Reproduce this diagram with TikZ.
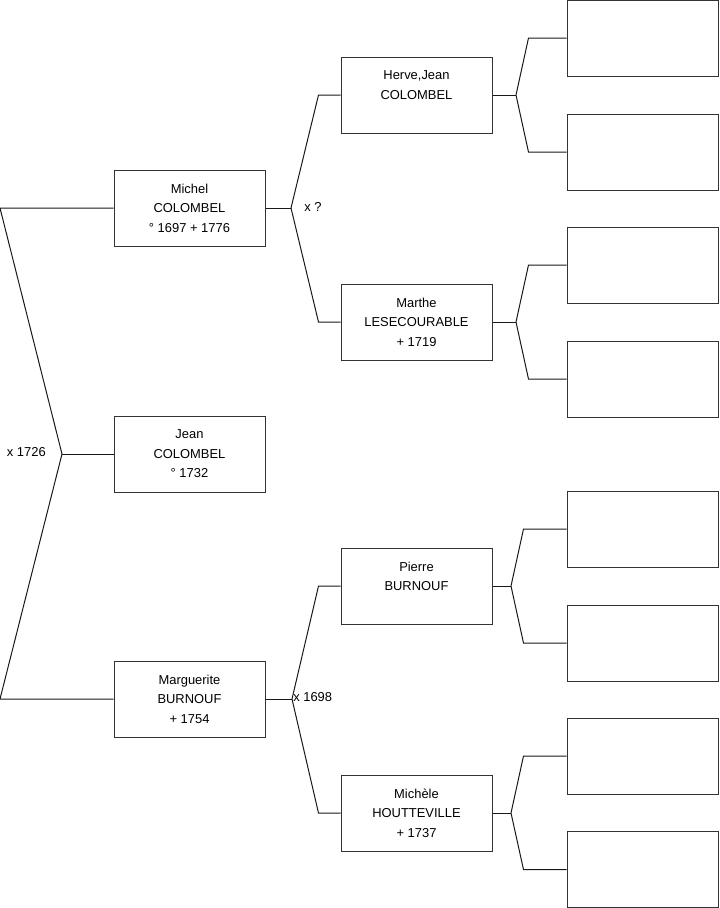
\documentclass[tikz,border=0pt]{standalone}
\usepackage{fontspec}
\setmainfont{Liberation Sans}
\usetikzlibrary{positioning}

\tikzset{
  person/.style={draw=black!80,line width=.75pt,minimum width=113.25pt,minimum height=57pt,
    align=center,inner sep=0pt,font=\fontsize{9.7}{14.6}\selectfont},
  union/.style={inner sep=0pt,font=\fontsize{9.7}{11}\selectfont},
  link/.style={line width=.75pt,black!90}
}

\begin{document}
\begin{tikzpicture}[x=.75pt,y=-.75pt]
\path[use as bounding box] (0,0) rectangle (719,908);
% first generation
\node[person] (michel) at (189.5,208) {Michel\\COLOMBEL\\° 1697 + 1776};
\node[person] (jean) at (189.5,454) {Jean\\COLOMBEL\\° 1732};
\node[person] (marguerite) at (189.5,699) {Marguerite\\BURNOUF\\+ 1754};
% second generation
\node[person] (herve) at (416.5,95) {Herve,Jean\\COLOMBEL\\\mbox{}};
\node[person] (marthe) at (416.5,322) {Marthe\\LESECOURABLE\\+ 1719};
\node[person] (pierre) at (416.5,586) {Pierre\\BURNOUF\\\mbox{}};
\node[person] (michele) at (416.5,813) {Michèle\\HOUTTEVILLE\\+ 1737};
% third generation, empty
\node[person] (hervefather) at (642.5,38) {};
\node[person] (hervemother) at (642.5,152) {};
\node[person] (marthefather) at (642.5,265) {};
\node[person] (marthemother) at (642.5,379) {};
\node[person] (pierrefather) at (642.5,529) {};
\node[person] (pierremother) at (642.5,643) {};
\node[person] (michelefather) at (642.5,756) {};
\node[person] (michelemother) at (642.5,869.5) {};

% forks
\coordinate (mtop) at (0,208);
\coordinate (mbot) at (0,699);
\coordinate (jfork) at (62,454);
\coordinate (mfork) at (291,208);
\coordinate (gfork) at (292,699);
\coordinate (hfork) at (516,95);
\coordinate (tfork) at (516,322);
\coordinate (pfork) at (511,586);
\coordinate (efork) at (511,813);

\draw[link] (michel.west) -- (mtop) -- (jfork) -- (mbot) -- (marguerite.west);
\draw[link] (jfork) -- (jean.west);
\node[union,anchor=east] (x1726) at (46,452) {x 1726};

\draw[link] (michel.east) -- (mfork);
\draw[link] (herve.west) -- +(-22,0) -- (mfork);
\draw[link] (marthe.west) -- +(-22,0) -- (mfork);
\node[union,anchor=west] (xunknown) at (304,207) {x ?};

\draw[link] (marguerite.east) -- (gfork);
\draw[link] (pierre.west) -- +(-22,0) -- (gfork);
\draw[link] (michele.west) -- +(-22,0) -- (gfork);
\node[union,anchor=west] (x1698) at (293,697) {x 1698};

\draw[link] (herve.east) -- (hfork);
\draw[link] (hervefather.west) -- +(-38,0) -- (hfork);
\draw[link] (hervemother.west) -- +(-38,0) -- (hfork);

\draw[link] (marthe.east) -- (tfork);
\draw[link] (marthefather.west) -- +(-38,0) -- (tfork);
\draw[link] (marthemother.west) -- +(-38,0) -- (tfork);

\draw[link] (pierre.east) -- (pfork);
\draw[link] (pierrefather.west) -- +(-43,0) -- (pfork);
\draw[link] (pierremother.west) -- +(-43,0) -- (pfork);

\draw[link] (michele.east) -- (efork);
\draw[link] (michelefather.west) -- +(-43,0) -- (efork);
\draw[link] (michelemother.west) -- +(-43,0) -- (efork);
\end{tikzpicture}
\end{document}
